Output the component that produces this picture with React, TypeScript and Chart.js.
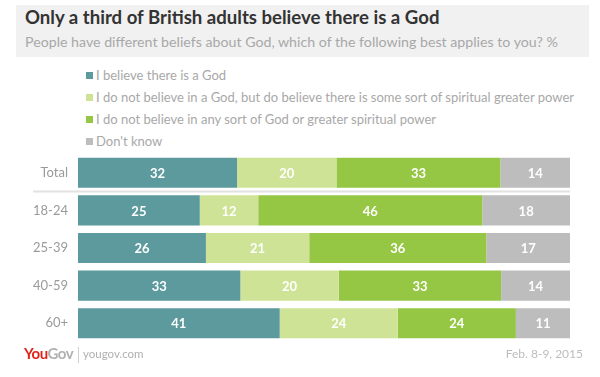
import React, { useEffect, useRef } from "react";
import { Chart, registerables } from "chart.js";

Chart.register(...registerables);

const titleText = "Only a third of British adults believe there is a God";
const subtitleText = "People have different beliefs about God, which of the following best applies to you? %";
const categories = ["Total", "18-24", "25-39", "40-59", "60+"];
const seriesNames = [
  "I believe there is a God",
  "I do not believe in a God, but do believe there is some sort of spiritual greater power",
  "I do not believe in any sort of God or greater spiritual power",
  "Don't know",
];
const believeGod = [32, 25, 26, 33, 41];
const spiritualPower = [20, 12, 21, 20, 24];
const noGod = [33, 46, 36, 33, 24];
const dontKnow = [14, 18, 17, 14, 11];
const seriesColors = ["#5c9a9d", "#cfe397", "#95c644", "#bdbdbd"];
const sourceText = "yougov.com";
const dateText = "Feb. 8-9, 2015";

const FONT = "Lato, 'Open Sans', sans-serif";

const allSeries = [believeGod, spiritualPower, noGod, dontKnow];
const rowTotals = categories.map((_, i) => allSeries.reduce((s, arr) => s + arr[i], 0));

const valueLabelPlugin = {
  id: "valueLabels",
  afterDatasetsDraw(chart: any) {
    const ctx = chart.ctx;
    ctx.save();
    ctx.font = `bold 13px ${FONT}`;
    ctx.fillStyle = "#ffffff";
    ctx.textAlign = "center";
    ctx.textBaseline = "middle";
    chart.data.datasets.forEach((ds: any, di: number) => {
      const meta = chart.getDatasetMeta(di);
      meta.data.forEach((bar: any, i: number) => {
        const raw = ds.rawValues[i];
        const cx = (bar.x + bar.base) / 2;
        ctx.fillText(String(raw), cx, bar.y + 1);
      });
    });
    ctx.restore();
  },
};

const separatorPlugin = {
  id: "separator",
  beforeDatasetsDraw(chart: any) {
    const y = chart.scales.y;
    const ctx = chart.ctx;
    const py = (y.getPixelForValue(0) + y.getPixelForValue(1)) / 2;
    ctx.save();
    ctx.strokeStyle = "#e2e2e2";
    ctx.lineWidth = 2;
    ctx.beginPath();
    ctx.moveTo(33, py);
    ctx.lineTo(chart.chartArea.right, py);
    ctx.stroke();
    ctx.restore();
  },
};

export default function App() {
  const canvasRef = useRef<HTMLCanvasElement | null>(null);

  useEffect(() => {
    document.body.style.margin = "0";
    const canvas = canvasRef.current;
    if (!canvas) return;
    const chart = new Chart(canvas, {
      type: "bar",
      data: {
        labels: categories,
        datasets: allSeries.map((arr, si) => ({
          label: seriesNames[si],
          data: arr.map((v, i) => (v / rowTotals[i]) * 100),
          rawValues: arr,
          backgroundColor: seriesColors[si],
          borderWidth: 0,
          barPercentage: 0.8,
          categoryPercentage: 1,
        })) as any,
      },
      options: {
        indexAxis: "y",
        animation: false,
        responsive: false,
        maintainAspectRatio: false,
        layout: { padding: { left: 0, right: 30, top: 154, bottom: 35 } },
        plugins: {
          legend: { display: false },
          tooltip: { enabled: false },
          title: { display: false },
        },
        scales: {
          x: { stacked: true, min: 0, max: 100, display: false },
          y: {
            stacked: true,
            grid: { display: false, drawTicks: false },
            border: { display: false },
            ticks: { color: "#9a9a9a", font: { family: FONT, size: 13 }, padding: 10 },
            afterFit: (scale: any) => {
              scale.width = 78;
            },
          },
        },
      },
      plugins: [valueLabelPlugin, separatorPlugin],
    } as any);
    return () => chart.destroy();
  }, []);

  return (
    <div style={{ position: "absolute", left: 0, top: 0, width: 600, height: 377, background: "#fff", fontFamily: FONT, overflow: "hidden" }}>
      <div style={{ position: "absolute", left: 16, top: 5, width: 573, height: 52, background: "#f1f1f1" }} />
      <div style={{ position: "absolute", left: 25, top: 8, fontSize: 18.6, lineHeight: "19px", fontWeight: 700, color: "#333", whiteSpace: "nowrap" }}>
        {titleText}
      </div>
      <div style={{ position: "absolute", left: 25, top: 35, fontSize: 14.2, lineHeight: "14px", color: "#a8a8a8", whiteSpace: "nowrap" }}>
        {subtitleText}
      </div>
      {seriesNames.map((name, i) => (
        <div key={i} style={{ position: "absolute", left: 86, top: 69 + i * 22, height: 13, display: "flex", alignItems: "center", whiteSpace: "nowrap", fontSize: 13, lineHeight: "13px", color: "#a8a8a8" }}>
          <span style={{ display: "inline-block", width: 7, height: 7, background: seriesColors[i], marginRight: 3 }} />
          <span>{name}</span>
        </div>
      ))}
      <canvas ref={canvasRef} width={600} height={377} style={{ position: "absolute", left: 0, top: 0, width: 600, height: 377 }} />
      <div style={{ position: "absolute", left: 24, top: 346, fontSize: 15, lineHeight: "15px", fontWeight: 700, whiteSpace: "nowrap", letterSpacing: -0.5 }}>
        <span style={{ color: "#e2231a" }}>You</span>
        <span style={{ color: "#b0b0b0" }}>Gov</span>
      </div>
      <div style={{ position: "absolute", left: 78, top: 347, width: 1, height: 16, background: "#cfcfcf" }} />
      <div style={{ position: "absolute", left: 83, top: 348, fontSize: 11.5, lineHeight: "12px", color: "#b0b0b0", whiteSpace: "nowrap" }}>
        {sourceText}
      </div>
      <div style={{ position: "absolute", right: 17, top: 348, fontSize: 12, lineHeight: "12px", color: "#bdbdbd", whiteSpace: "nowrap" }}>
        {dateText}
      </div>
    </div>
  );
}
